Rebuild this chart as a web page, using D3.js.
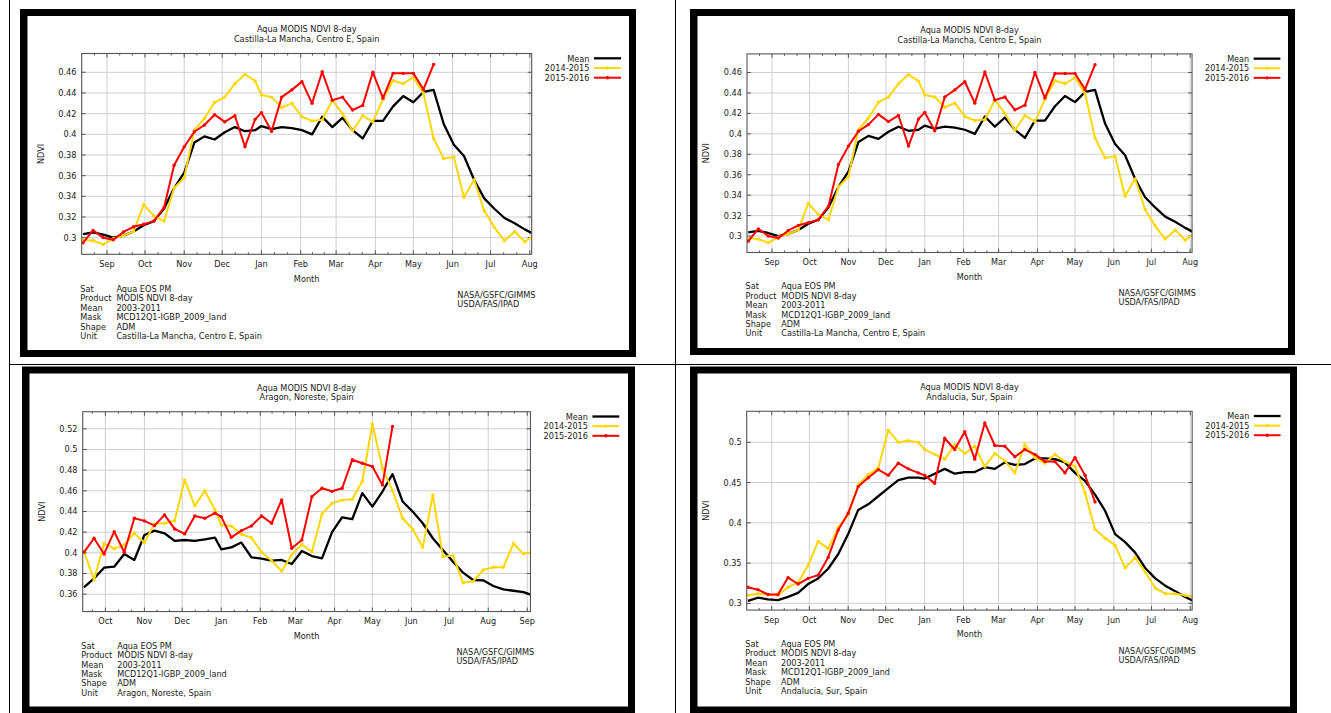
<!DOCTYPE html>
<html>
<head>
<meta charset="utf-8">
<script src="https://cdn.jsdelivr.net/npm/d3@7"></script>
<style>
  body { margin: 0; background: #fff; }
  svg { display: block; }
  text { font-family: "DejaVu Sans", sans-serif; fill: #1a1a1a; }
</style>
</head>
<body>
<div id="chart"></div>
<script>
// 8-day composite start days (day of year), Aug->Aug and Sep->Sep seasons
const doyAug = [225, 233, 241, 249, 257, 265, 273, 281, 289, 297, 305, 313, 321, 329, 337, 345, 353, 361,
  1, 9, 17, 25, 33, 41, 49, 57, 65, 73, 81, 89, 97, 105, 113, 121, 129, 137, 145, 153, 161, 169, 177, 185, 193, 201, 209, 217];
const doySep = [257, 265, 273, 281, 289, 297, 305, 313, 321, 329, 337, 345, 353, 361,
  1, 9, 17, 25, 33, 41, 49, 57, 65, 73, 81, 89, 97, 105, 113, 121, 129, 137, 145, 153, 161, 169, 177, 185, 193, 201, 209, 217, 225, 233, 241, 249];

const seriesNames = ["Mean", "2014-2015", "2015-2016"];
const infoLabels = ["Sat", "Product", "Mean", "Mask", "Shape", "Unit"];
const infoValues = ["Aqua EOS PM", "MODIS NDVI 8-day", "2003-2011", "MCD12Q1-IGBP_2009_land", "ADM"];
const credits = ["NASA/GSFC/GIMMS", "USDA/FAS/IPAD"];

// Castilla-La Mancha
const castillaMean = [0.3035, 0.305, 0.303, 0.300, 0.302, 0.306, 0.312, 0.316, 0.328, 0.348,
  0.363, 0.392, 0.398, 0.395, 0.402, 0.407, 0.403, 0.404, 0.408, 0.405,
  0.407, 0.406, 0.404, 0.400, 0.417, 0.407, 0.416, 0.404, 0.396, 0.413,
  0.413, 0.427, 0.437, 0.431, 0.441, 0.443, 0.410, 0.390, 0.379, 0.356,
  0.338, 0.328, 0.319, 0.314, 0.308, 0.303];
const castilla1415 = [0.298, 0.297, 0.2935, 0.299, 0.302, 0.306, 0.332, 0.321, 0.316, 0.348,
  0.358, 0.404, 0.4155, 0.431, 0.436, 0.449, 0.458, 0.4516, 0.438, 0.436,
  0.426, 0.430, 0.417, 0.413, 0.414, 0.433, 0.420, 0.4035, 0.418, 0.412,
  0.434, 0.452, 0.449, 0.455, 0.4397, 0.396, 0.3765, 0.378, 0.339, 0.356,
  0.326, 0.310, 0.297, 0.306, 0.296, 0.303];
const castilla1516 = [0.295, 0.307, 0.300, 0.298, 0.3055, 0.3105, 0.313, 0.316, 0.329, 0.370,
  0.388, 0.4025, 0.409, 0.419, 0.412, 0.418, 0.388, 0.4145, 0.421, 0.403,
  0.436, 0.443, 0.451, 0.430, 0.4605, 0.433, 0.436, 0.4235, 0.428, 0.460,
  0.435, 0.459, 0.459, 0.459, 0.4435, 0.4677];

// Aragon
const aragonMean = [0.3666, 0.3753, 0.3856, 0.3866, 0.3989, 0.3931, 0.4173, 0.4215, 0.4189, 0.4115,
  0.4124, 0.4115, 0.4131, 0.4147, 0.4034, 0.4053, 0.4099, 0.3956, 0.3944, 0.3924,
  0.3931, 0.3892, 0.4018, 0.3969, 0.3947, 0.420, 0.4344, 0.4325, 0.4577, 0.4447,
  0.4593, 0.4761, 0.4496, 0.4399, 0.4286, 0.4141, 0.4028, 0.3914, 0.3808, 0.3737,
  0.3734, 0.3679, 0.3646, 0.3633, 0.362, 0.3585];
const aragon1415 = [0.401, 0.374, 0.409, 0.404, 0.4076, 0.419, 0.410, 0.428, 0.4286, 0.431,
  0.4706, 0.4454, 0.460, 0.4415, 0.427, 0.426, 0.418, 0.4147, 0.4005, 0.3924,
  0.3824, 0.398, 0.408, 0.401, 0.4376, 0.448, 0.451, 0.4518, 0.469, 0.5248,
  0.482, 0.460, 0.4334, 0.4228, 0.4053, 0.456, 0.3963, 0.3973, 0.371, 0.3724,
  0.3834, 0.386, 0.386, 0.409, 0.399, 0.401];
const aragon1516 = [0.4005, 0.4141, 0.3989, 0.4205, 0.4005, 0.4334, 0.4309, 0.4263, 0.4367, 0.4231,
  0.4183, 0.4357, 0.4334, 0.4383, 0.435, 0.415, 0.4215, 0.426, 0.4357, 0.4286,
  0.4512, 0.4044, 0.4124, 0.4544, 0.4625, 0.4595, 0.4625, 0.490, 0.4867, 0.4835,
  0.4657, 0.5223];

// Andalucia
const andaluciaMean = [0.303, 0.307, 0.305, 0.304, 0.308, 0.313, 0.324, 0.331, 0.343, 0.361,
  0.386, 0.416, 0.423, 0.433, 0.443, 0.453, 0.456, 0.456, 0.455, 0.461,
  0.467, 0.461, 0.463, 0.463, 0.469, 0.467, 0.475, 0.472, 0.473, 0.480,
  0.480, 0.479, 0.475, 0.462, 0.452, 0.435, 0.415, 0.386, 0.376, 0.363,
  0.344, 0.331, 0.322, 0.315, 0.308, 0.302];
const andalucia1415 = [0.310, 0.312, 0.311, 0.310, 0.320, 0.326, 0.347, 0.377, 0.368, 0.394,
  0.410, 0.447, 0.460, 0.468, 0.515, 0.500, 0.502, 0.500, 0.491, 0.485,
  0.479, 0.497, 0.486, 0.495, 0.470, 0.486, 0.477, 0.462, 0.497, 0.481,
  0.474, 0.485, 0.476, 0.470, 0.437, 0.392, 0.381, 0.372, 0.344, 0.357,
  0.339, 0.319, 0.312, 0.312, 0.310, 0.308];
const andalucia1516 = [0.320, 0.317, 0.311, 0.311, 0.332, 0.324, 0.331, 0.335, 0.357, 0.391,
  0.412, 0.445, 0.456, 0.466, 0.459, 0.474, 0.467, 0.462, 0.459, 0.449,
  0.505, 0.491, 0.513, 0.479, 0.524, 0.496, 0.495, 0.482, 0.491, 0.485,
  0.476, 0.476, 0.462, 0.481, 0.459, 0.426];

const ticksCastilla = [0.3, 0.32, 0.34, 0.36, 0.38, 0.4, 0.42, 0.44, 0.46];
const ticksAragon = [0.36, 0.38, 0.4, 0.42, 0.44, 0.46, 0.48, 0.5, 0.52];
const ticksAndalucia = [0.3, 0.35, 0.4, 0.45, 0.5];

const colors = ["#000000", "#ffd700", "#ff0000"];

const W = 1331, H = 713;
const svg = d3.select("#chart").append("svg").attr("width", W).attr("height", H);
const defs = svg.append("defs");

// table rules of the page the charts sit in
const rule = svg.append("g").attr("stroke", "#000").attr("stroke-width", 1);
rule.append("line").attr("x1", 9.5).attr("x2", 9.5).attr("y1", 0).attr("y2", H);
rule.append("line").attr("x1", 675.5).attr("x2", 675.5).attr("y1", 0).attr("y2", H);
rule.append("line").attr("x1", 9).attr("x2", W).attr("y1", 364.5).attr("y2", 364.5);

function toDate(doy, firstDoy) {
  return new Date(doy >= firstDoy ? 2014 : 2015, 0, doy);
}

// plot box in panel-local units
const P = { left: 81.7, right: 531.7, top: 53.5, bottom: 254.3 };
const DAY = 864e5;

function drawFrame(f) {
  const t = 7;
  svg.append("rect").attr("x", f.l).attr("y", f.t).attr("width", f.r - f.l).attr("height", f.b - f.t).attr("fill", "#000");
  svg.append("rect").attr("x", f.l + t + 0.5).attr("y", f.t + t).attr("width", f.r - f.l - 2 * t - 0.5)
    .attr("height", f.b - f.t - 2 * t).attr("fill", "#fff");
}

function drawPanel(cfg, id) {
  drawFrame(cfg.frame);
  const g = svg.append("g")
    .attr("transform", `translate(${cfg.tx},${cfg.ty}) scale(${cfg.s})`);

  defs.append("clipPath").attr("id", "clip" + id).append("rect")
    .attr("x", P.left).attr("y", P.top).attr("width", P.right - P.left).attr("height", P.bottom - P.top);

  const dates = cfg.doys.map((d) => toDate(d, cfg.doys[0]));
  const x = d3.scaleTime()
    .domain([new Date(+dates[0] - DAY), new Date(+dates[dates.length - 1] - 2.5 * DAY)])
    .range([P.left, P.right]);
  const y = d3.scaleLinear().domain(cfg.yDomain).range([P.bottom, P.top]);

  const months = x.ticks(d3.timeMonth.every(1));
  const step = (x(months[1]) - x(months[0])) / 3;
  let minor = [];
  months.forEach((m, i) => {
    const a = x(m);
    const b = i < months.length - 1 ? x(months[i + 1]) : a + 3 * step;
    minor.push(a + (b - a) / 3, a + 2 * (b - a) / 3);
  });
  minor.push(x(months[0]) - step, x(months[0]) - 2 * step);
  minor = minor.filter((v) => v > P.left + 0.5 && v < P.right - 0.5);

  // grid
  const grid = g.append("g").attr("stroke", "#cfcfcf").attr("stroke-width", 1);
  grid.selectAll(".gy").data(cfg.yTicks).enter().append("line")
    .attr("x1", P.left).attr("x2", P.right).attr("y1", (d) => y(d)).attr("y2", (d) => y(d));
  grid.selectAll(".gx").data(months).enter().append("line")
    .attr("x1", (d) => x(d)).attr("x2", (d) => x(d)).attr("y1", P.top).attr("y2", P.bottom);

  // ticks on all four sides
  const tk = g.append("g").attr("stroke", "#555").attr("stroke-width", 1);
  months.forEach((m) => {
    const xx = x(m);
    tk.append("line").attr("x1", xx).attr("x2", xx).attr("y1", P.bottom).attr("y2", P.bottom - 4);
    tk.append("line").attr("x1", xx).attr("x2", xx).attr("y1", P.top).attr("y2", P.top + 4);
  });
  minor.forEach((xx) => {
    tk.append("line").attr("x1", xx).attr("x2", xx).attr("y1", P.bottom).attr("y2", P.bottom - 2);
    tk.append("line").attr("x1", xx).attr("x2", xx).attr("y1", P.top).attr("y2", P.top + 2);
  });
  cfg.yTicks.forEach((t) => {
    tk.append("line").attr("x1", P.left).attr("x2", P.left + 4).attr("y1", y(t)).attr("y2", y(t));
    tk.append("line").attr("x1", P.right).attr("x2", P.right - 4).attr("y1", y(t)).attr("y2", y(t));
  });

  // series
  const plot = g.append("g").attr("clip-path", `url(#clip${id})`);
  const series = [cfg.mean, cfg.y1415, cfg.y1516];
  series.forEach((vals, k) => {
    const pts = vals.map((v, i) => [dates[i], v]);
    const line = d3.line().x((d) => x(d[0])).y((d) => y(d[1]));
    plot.append("path").datum(pts)
      .attr("d", line)
      .attr("fill", "none")
      .attr("stroke", colors[k])
      .attr("stroke-width", k === 0 ? 2.3 : 2)
      .attr("stroke-linejoin", "round");
    if (k > 0) {
      plot.selectAll(null).data(pts).enter().append("circle")
        .attr("cx", (d) => x(d[0])).attr("cy", (d) => y(d[1]))
        .attr("r", 1.7).attr("fill", colors[k]);
    }
  });

  // plot border
  g.append("rect").attr("x", P.left).attr("y", P.top)
    .attr("width", P.right - P.left).attr("height", P.bottom - P.top)
    .attr("fill", "none").attr("stroke", "#555").attr("stroke-width", 1.1);

  const fs = "8.2px";
  const txt = (xx, yy, s, anchor) => g.append("text").attr("x", xx).attr("y", yy)
    .attr("text-anchor", anchor || "start").style("font-size", fs).text(s);

  // titles
  const cx = (P.left + P.right) / 2;
  txt(cx, 32.2, "Aqua MODIS NDVI 8-day", "middle");
  txt(cx, 42.2, cfg.unit, "middle");

  // y axis labels
  cfg.yTicks.forEach((t) => txt(76.5, y(t) + 3, String(t), "end"));
  g.append("text").attr("transform", `translate(43.5,${(P.top + P.bottom) / 2}) rotate(-90)`)
    .attr("text-anchor", "middle").style("font-size", fs).text("NDVI");

  // x axis labels
  months.forEach((m) => txt(x(m), 267.3, d3.timeFormat("%b")(m), "middle"));
  txt(cx, 282, "Month", "middle");

  // legend
  seriesNames.forEach((name, k) => {
    const ly = 58.3 + k * 9.7;
    txt(589.5, ly + 3.2, name, "end");
    g.append("line").attr("x1", 594).attr("x2", 621).attr("y1", ly).attr("y2", ly)
      .attr("stroke", colors[k]).attr("stroke-width", k === 0 ? 2.3 : 2);
    if (k > 0) g.append("circle").attr("cx", 607.5).attr("cy", ly).attr("r", 1.7).attr("fill", colors[k]);
  });

  // info block
  const values = infoValues.concat([cfg.unit]);
  infoLabels.forEach((lab, i) => {
    txt(80.3, 291.6 + i * 9.48, lab);
    txt(116.4, 291.6 + i * 9.48, values[i]);
  });
  credits.forEach((c, i) => txt(457.3, 298.3 + i * 9, c));
}

const castilla = {
  unit: "Castilla-La Mancha, Centro E, Spain", doys: doyAug,
  mean: castillaMean, y1415: castilla1415, y1516: castilla1516,
  yTicks: ticksCastilla, yDomain: [0.2839, 0.4782]
};

drawPanel(Object.assign({ tx: 0, ty: 0, s: 1, frame: { l: 20, t: 9, r: 636, b: 357 } }, castilla), 1);
drawPanel(Object.assign({ tx: 666.2, ty: 1, s: 0.989, frame: { l: 690, t: 9, r: 1295, b: 355 } }, castilla), 2);
drawPanel({
  tx: 1.4, ty: 358.5, s: 0.995, frame: { l: 22, t: 366.5, r: 635, b: 713.5 },
  unit: "Aragon, Noreste, Spain", doys: doySep,
  mean: aragonMean, y1415: aragon1415, y1516: aragon1516,
  yTicks: ticksAragon, yDomain: [0.3432, 0.5365]
}, 3);
drawPanel({
  tx: 665.8, ty: 358.3, s: 0.99, frame: { l: 690, t: 366.5, r: 1297, b: 713.5 },
  unit: "Andalucia, Sur, Spain", doys: doyAug,
  mean: andaluciaMean, y1415: andalucia1415, y1516: andalucia1516,
  yTicks: ticksAndalucia, yDomain: [0.2917, 0.5385]
}, 4);
</script>
</body>
</html>
